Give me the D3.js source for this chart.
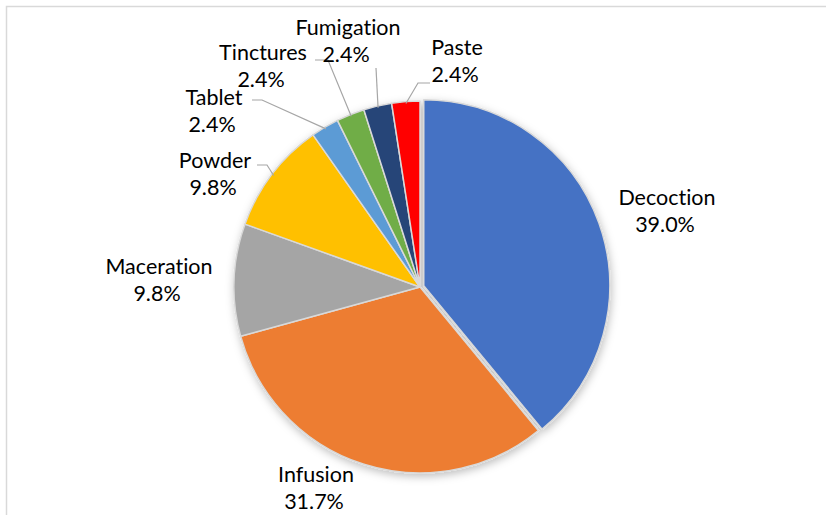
<!DOCTYPE html>
<html>
<head>
<meta charset="utf-8">
<script src="https://cdn.jsdelivr.net/npm/d3@7"></script>
<style>
  html, body { margin: 0; padding: 0; background: #ffffff; }
  svg { display: block; }
  text { font-variant-ligatures: none; }
</style>
</head>
<body>
<svg id="chart" width="826" height="515"></svg>
<script>
// Preparation methods and number of citations (share of 41 reports)
const methods = ["Decoction", "Infusion", "Maceration", "Powder", "Tablet", "Tinctures", "Fumigation", "Paste"];
const counts = [16, 13, 4, 4, 1, 1, 1, 1];
const colors = ["#4472C4", "#ED7D31", "#A5A5A5", "#FFC000", "#5B9BD5", "#70AD47", "#264478", "#FF0000"];

// Label anchor (center of the name line) for each slice
const labelPos = [
  [667, 197], [316, 474], [159, 266], [215, 160],
  [214, 97], [263, 52], [348, 27], [457, 47]
];
// Leader line elbow/end points for labels placed away from their slice
const leaders = {
  3: [[267, 165], [257, 165]],
  4: [[262, 100], [252, 100]],
  5: [[328, 60], [315, 60]],
  6: [[376, 68]],
  7: [[418, 83], [430, 83]]
};

const svg = d3.select("#chart");
const cx = 420, cy = 287, r = 186;

// Chart area frame
svg.append("rect")
  .attr("x", 6.5).attr("y", 6.5)
  .attr("width", 900).attr("height", 600)
  .attr("fill", "none").attr("stroke", "#d9d9d9").attr("stroke-width", 1.5);

const defs = svg.append("defs");
const f = defs.append("filter").attr("id", "shadow")
  .attr("x", "-20%").attr("y", "-20%").attr("width", "140%").attr("height", "140%");
f.append("feDropShadow")
  .attr("dx", 1).attr("dy", 3).attr("stdDeviation", 4)
  .attr("flood-color", "#000").attr("flood-opacity", 0.25);

const data = methods.map((m, i) => ({ name: m, value: counts[i], color: colors[i], i }));
const total = d3.sum(counts);
const pie = d3.pie().value(d => d.value).sort(null);
const arcs = pie(data);
const arc = d3.arc().innerRadius(0).outerRadius(r);

const g = svg.append("g").attr("transform", `translate(${cx},${cy})`);
const pieG = g.append("g").attr("filter", "url(#shadow)");

pieG.selectAll("path")
  .data(arcs)
  .join("path")
  .attr("d", arc)
  .attr("transform", d => {
    if (d.index !== 0) return null;
    const mid = (d.startAngle + d.endAngle) / 2;
    const off = 4;
    return `translate(${Math.sin(mid) * off},${-Math.cos(mid) * off})`;
  })
  .attr("fill", d => d.data.color)
  .attr("stroke", "#d9d9d9")
  .attr("stroke-width", 1.5)
  .attr("stroke-linejoin", "round");

// Leader lines
arcs.forEach(d => {
  const pts = leaders[d.index];
  if (!pts) return;
  const mid = (d.startAngle + d.endAngle) / 2;
  const start = [cx + Math.sin(mid) * (r - 2), cy - Math.cos(mid) * (r - 2)];
  svg.append("polyline")
    .attr("points", [start, ...pts].map(p => p.join(",")).join(" "))
    .attr("fill", "none")
    .attr("stroke", "#a6a6a6")
    .attr("stroke-width", 1.2);
});

// Labels: name on the first line, percentage below
const fmt = v => (v / total * 100).toFixed(1) + "%";
const labels = svg.append("g")
  .attr("font-family", "Lato, 'Open Sans', sans-serif")
  .attr("font-size", 21.5)
  .attr("fill", "#000")
  .attr("text-anchor", "middle");

arcs.forEach(d => {
  const [x, y] = labelPos[d.index];
  const t = labels.append("text").attr("x", x).attr("y", y).attr("dy", "0.35em");
  t.append("tspan").attr("x", x).text(d.data.name);
  t.append("tspan").attr("x", x - 2).attr("dy", 27.5).text(fmt(d.data.value));
});
</script>
</body>
</html>
